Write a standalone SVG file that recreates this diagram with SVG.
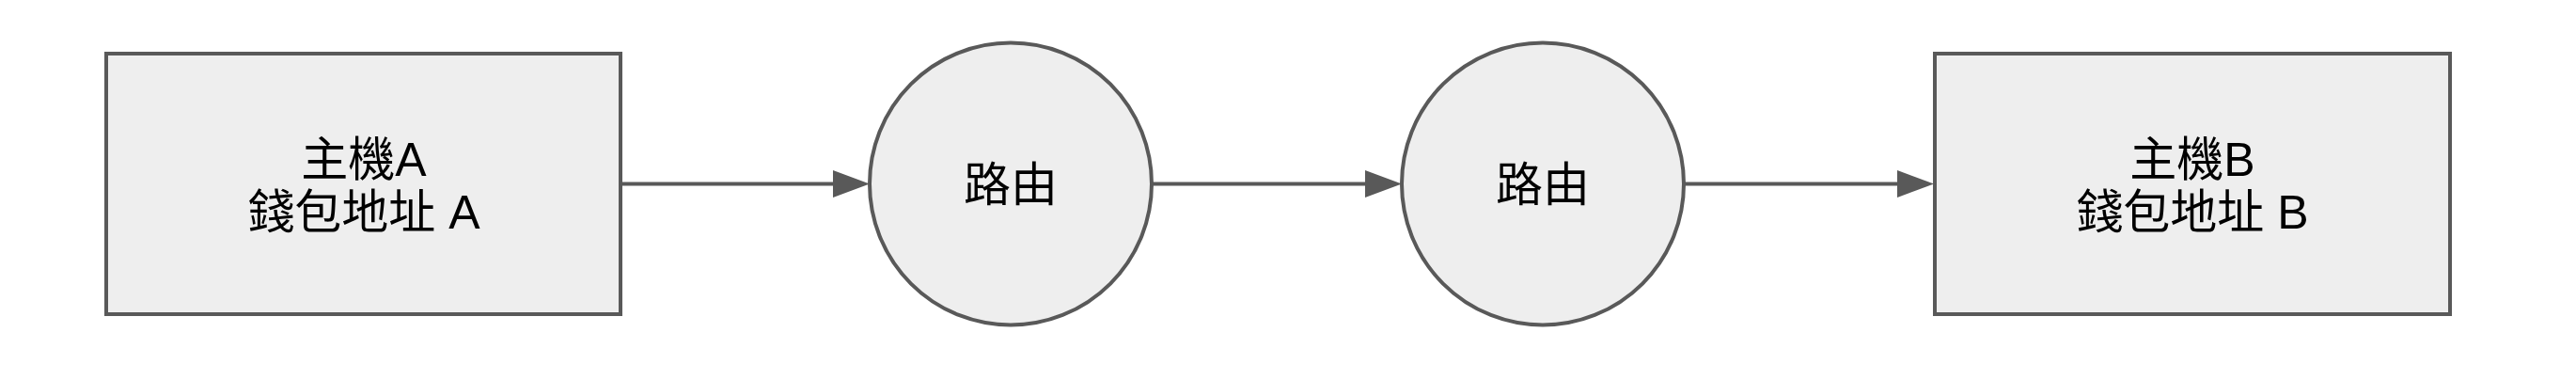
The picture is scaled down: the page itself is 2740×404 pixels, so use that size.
<svg xmlns="http://www.w3.org/2000/svg" width="2740" height="404" viewBox="0 0 2740 404">
  <style>
    .shape { fill: #eeeeee; stroke: #595959; stroke-width: 4; }
    .edge { fill: none; stroke: #595959; stroke-width: 4; }
    .label { font-family: "Liberation Sans", "Noto Sans CJK TC", sans-serif; font-size: 50px; fill: #000000; text-anchor: middle; }
  </style>
  <defs>
    <marker id="arrow" markerUnits="userSpaceOnUse" markerWidth="39" markerHeight="29" refX="0" refY="14.5" orient="auto" overflow="visible">
      <path d="M0,0 L39,14.5 L0,29 Z" fill="#595959"/>
    </marker>
  </defs>
  <rect width="2740" height="404" fill="#ffffff"/>
  <g id="connectors">
    <path class="edge" d="M662,195.5 H886" marker-end="url(#arrow)"/>
    <path class="edge" d="M1225,195.5 H1452" marker-end="url(#arrow)"/>
    <path class="edge" d="M1791,195.5 H2018" marker-end="url(#arrow)"/>
  </g>
  <g id="hostA">
    <rect class="shape" x="113" y="57" width="547" height="277"/>
    <text class="label" x="387" y="187">主機A</text>
    <text class="label" x="387" y="243">錢包地址 A</text>
  </g>
  <g id="router1">
    <circle class="shape" cx="1075" cy="195.5" r="150"/>
    <text class="label" x="1075" y="214">路由</text>
  </g>
  <g id="router2">
    <circle class="shape" cx="1641" cy="195.5" r="150"/>
    <text class="label" x="1641" y="214">路由</text>
  </g>
  <g id="hostB">
    <rect class="shape" x="2058" y="57" width="548" height="277"/>
    <text class="label" x="2332" y="187">主機B</text>
    <text class="label" x="2332" y="243">錢包地址 B</text>
  </g>
</svg>
